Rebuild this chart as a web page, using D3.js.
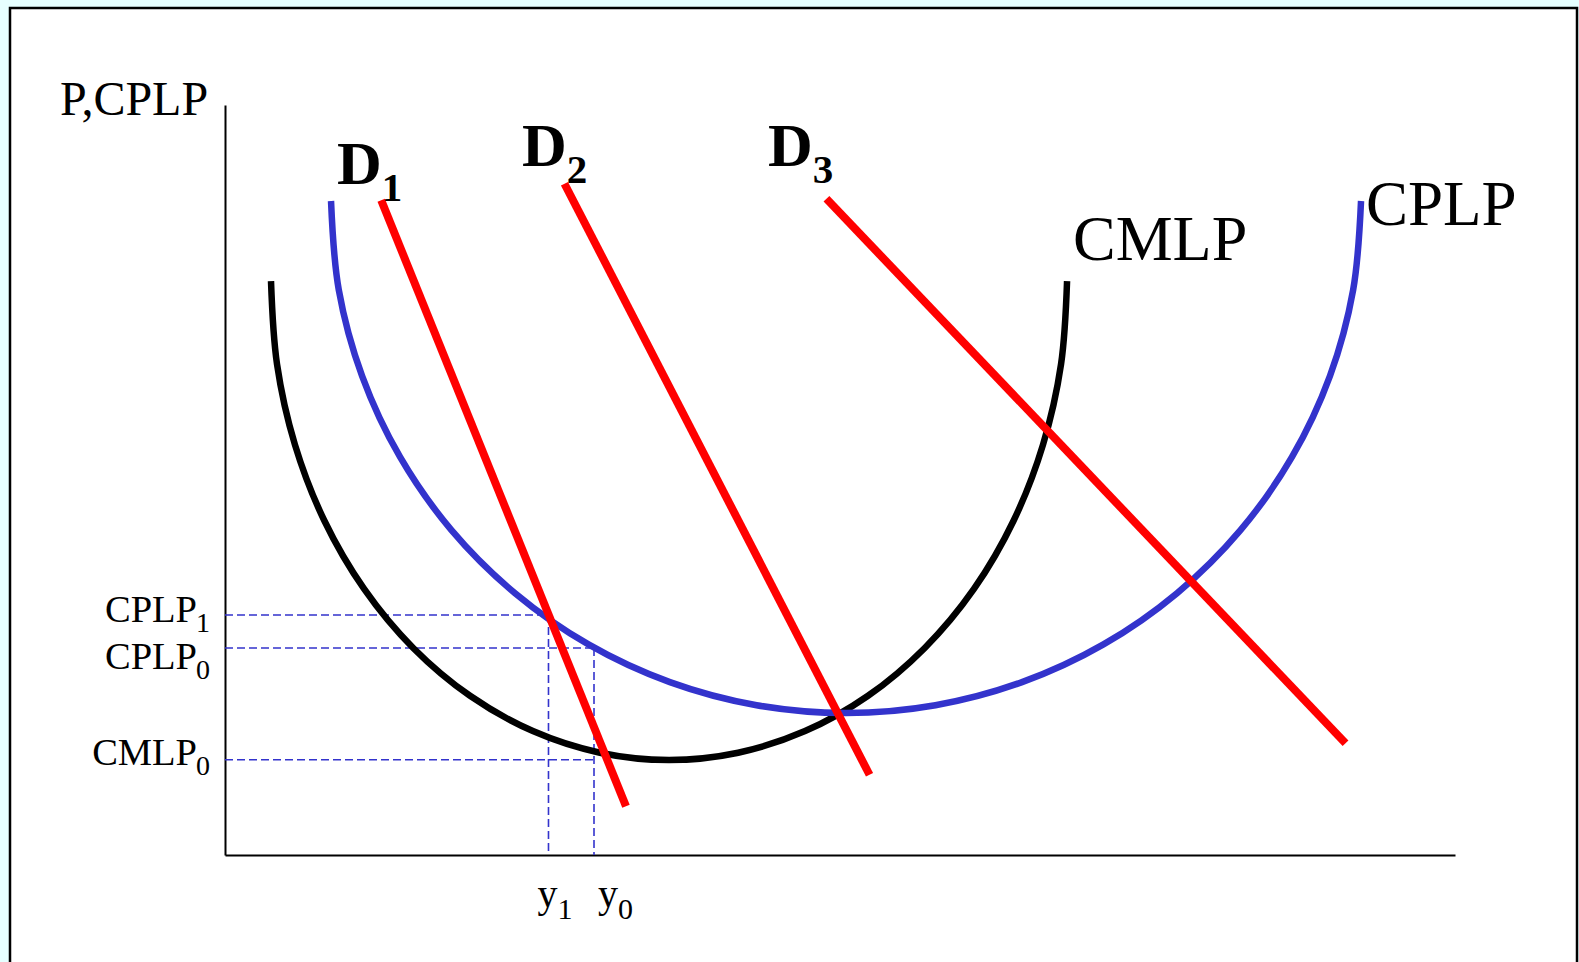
<!DOCTYPE html>
<html>
<head>
<meta charset="utf-8">
<script src="https://cdn.jsdelivr.net/npm/d3@7"></script>
<style>
  html, body { margin: 0; padding: 0; background: #e6ffff; }
  svg { display: block; }
  text { font-family: "Liberation Serif", "Times New Roman", serif; fill: #000; }
</style>
</head>
<body>
<svg id="chart" width="1579" height="962"></svg>
<script>
// ---- data (quantity 0-100 on x, price 0-100 on y) ----
const cmlpQ = [3.74, 4.23, 5.69, 8.07, 11.31, 15.30, 19.92, 25.03, 30.48, 36.10, 41.72, 47.16, 52.28, 56.89, 60.89, 64.12, 66.50, 67.97, 68.46];
const cmlpP = [76.53, 65.44, 54.69, 44.60, 35.48, 27.61, 21.23, 16.52, 13.64, 12.67, 13.64, 16.52, 21.23, 27.61, 35.48, 44.60, 54.69, 65.44, 76.53];

const cplpQ = [8.62, 9.25, 11.15, 14.23, 18.41, 23.58, 29.55, 36.17, 43.22, 50.49, 57.76, 64.80, 71.42, 77.40, 82.56, 86.75, 89.83, 91.72, 92.36];
const cplpP = [87.20, 75.35, 63.85, 53.07, 43.32, 34.91, 28.08, 23.05, 19.97, 18.93, 19.97, 23.05, 28.08, 34.91, 43.32, 53.07, 63.85, 75.35, 87.20];

const demandNames  = ["D", "D", "D"];
const demandSubs   = ["1", "2", "3"];
const demandQStart = [12.7, 27.6, 48.9];
const demandPStart = [87.3, 89.5, 87.5];
const demandQEnd   = [32.6, 52.4, 91.1];
const demandPEnd   = [6.5, 10.7, 14.9];

const priceLabels    = ["CPLP", "CPLP", "CMLP"];
const priceSubs      = ["1", "0", "0"];
const priceValues    = [32.0, 27.6, 12.7];
const priceLineEnds  = [26.3, 30.0, 30.0];

const quantityLabels   = ["y", "y"];
const quantitySubs     = ["1", "0"];
const quantityValues   = [26.3, 30.0];
const quantityLineTops = [32.0, 27.6];

const yAxisTitle = "P,CPLP";
const curveNames = ["CMLP", "CPLP"];

// ---- layout ----
const W = 1579, H = 962;
const svg = d3.select("#chart");
const x = d3.scaleLinear().domain([0, 100]).range([225, 1455]);
const y = d3.scaleLinear().domain([0, 100]).range([855, 105]);

svg.append("rect").attr("x", 0).attr("y", 0).attr("width", W).attr("height", H).attr("fill", "#e6ffff");
svg.append("rect").attr("x", 10).attr("y", 8).attr("width", 1567).attr("height", 1000)
  .attr("fill", "#ffffff").attr("stroke", "#000").attr("stroke-width", 2.5);

// axes
const gy = svg.append("g").attr("transform", `translate(${x(0)},0)`)
  .call(d3.axisLeft(y).ticks(0).tickSize(0).tickSizeOuter(0));
const gx = svg.append("g").attr("transform", `translate(0,${y(0)})`)
  .call(d3.axisBottom(x).ticks(0).tickSize(0).tickSizeOuter(0));
[gx, gy].forEach(g => {
  g.select(".domain").attr("stroke", "#000").attr("stroke-width", 2);
  g.selectAll(".tick").remove();
});

// dashed guide lines
const dashColor = "#3333cc";
priceValues.forEach((v, i) => {
  svg.append("line")
    .attr("x1", x(0)).attr("x2", x(priceLineEnds[i]))
    .attr("y1", y(v)).attr("y2", y(v))
    .attr("stroke", dashColor).attr("stroke-width", 1.6).attr("stroke-dasharray", "8,4");
});
quantityValues.forEach((v, i) => {
  svg.append("line")
    .attr("x1", x(v)).attr("x2", x(v))
    .attr("y1", y(quantityLineTops[i])).attr("y2", y(0))
    .attr("stroke", dashColor).attr("stroke-width", 1.6).attr("stroke-dasharray", "8,4");
});

// curves
const line = d3.line().x(d => x(d[0])).y(d => y(d[1])).curve(d3.curveCatmullRom.alpha(0.5));
svg.append("path").datum(cmlpQ.map((q, i) => [q, cmlpP[i]]))
  .attr("d", line).attr("fill", "none").attr("stroke", "#000").attr("stroke-width", 6.5);
svg.append("path").datum(cplpQ.map((q, i) => [q, cplpP[i]]))
  .attr("d", line).attr("fill", "none").attr("stroke", "#3333cc").attr("stroke-width", 6.5);

// demand lines
demandNames.forEach((n, i) => {
  svg.append("line")
    .attr("x1", x(demandQStart[i])).attr("y1", y(demandPStart[i]))
    .attr("x2", x(demandQEnd[i])).attr("y2", y(demandPEnd[i]))
    .attr("stroke", "#ff0000").attr("stroke-width", 8);
});

// ---- labels ----
svg.append("text").attr("x", 60).attr("y", 115).attr("font-size", 48).text(yAxisTitle);

const priceLabelOffsets = [7, 21, 5];
priceLabels.forEach((t, i) => {
  const tx = svg.append("text").attr("x", 210).attr("y", y(priceValues[i]) + priceLabelOffsets[i])
    .attr("text-anchor", "end").attr("font-size", 38.5);
  tx.append("tspan").text(t);
  tx.append("tspan").attr("font-size", 28).attr("dx", -1).attr("dy", 10).text(priceSubs[i]);
});

const quantityLabelOffsets = [-11, 4];
quantityLabels.forEach((t, i) => {
  const tx = svg.append("text").attr("x", x(quantityValues[i]) + quantityLabelOffsets[i]).attr("y", 907)
    .attr("font-size", 40);
  tx.append("tspan").text(t);
  tx.append("tspan").attr("font-size", 30).attr("dy", 12).text(quantitySubs[i]);
});

const demandLabelQ = [9.1, 24.15, 44.15];
const demandLabelP = [89.47, 91.87, 91.87];
demandNames.forEach((n, i) => {
  const tx = svg.append("text").attr("x", x(demandLabelQ[i])).attr("y", y(demandLabelP[i]))
    .attr("font-size", 62).attr("font-weight", "bold");
  tx.append("tspan").text(n);
  tx.append("tspan").attr("font-size", 41).attr("dy", 17).text(demandSubs[i]);
});

svg.append("text").attr("x", 1073).attr("y", 260).attr("font-size", 64).text(curveNames[0]);
svg.append("text").attr("x", 1366).attr("y", 225).attr("font-size", 63).text(curveNames[1]);
</script>
</body>
</html>
